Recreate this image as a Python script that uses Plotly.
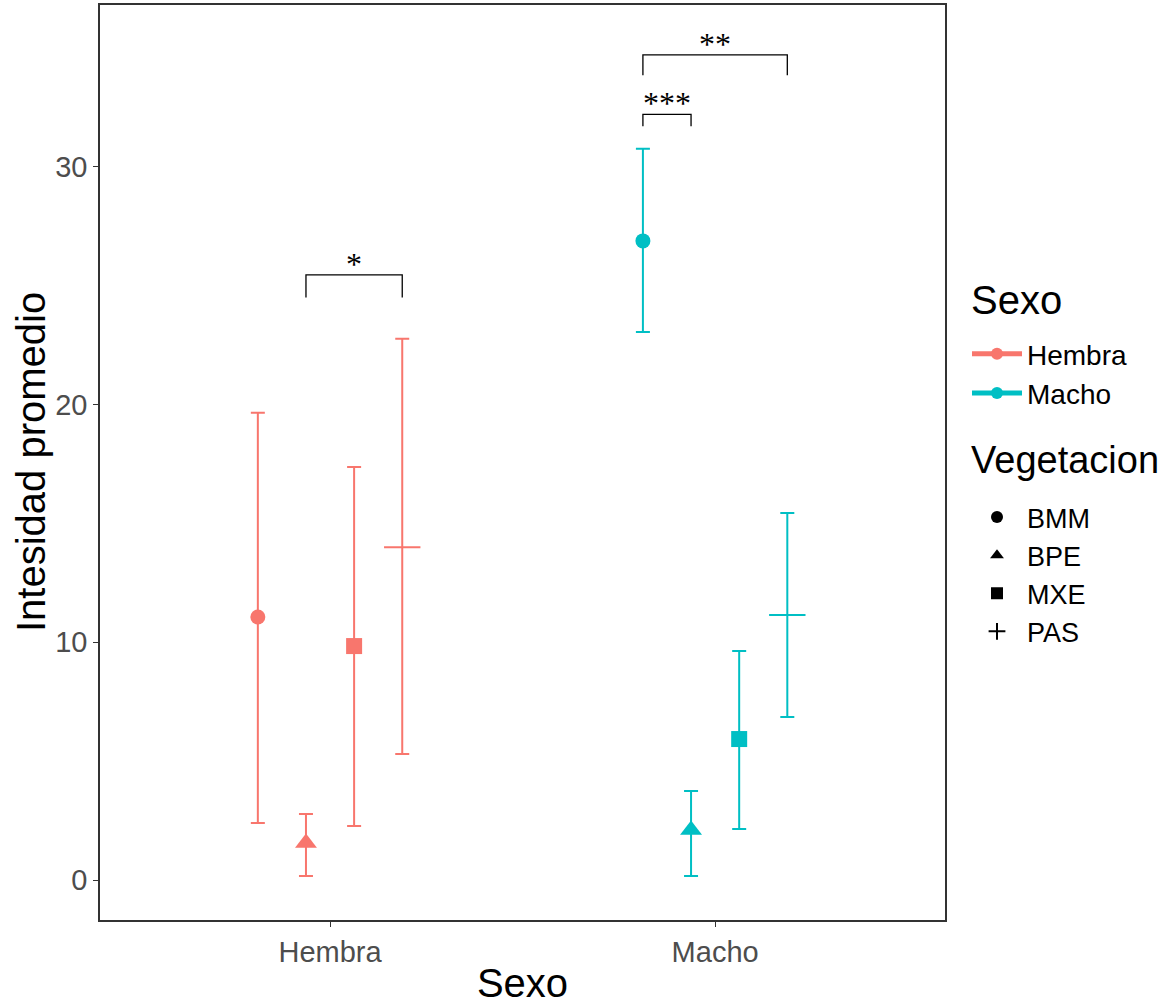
import plotly.graph_objects as go

# Mean intensity by sex and vegetation type, with error bar bounds
sexes = ["Hembra", "Macho"]
vegetation = ["BMM", "BPE", "MXE", "PAS"]
colors = {"Hembra": "#F8766D", "Macho": "#00BFC4"}
symbols = {"BMM": "circle", "BPE": "triangle-up", "MXE": "square", "PAS": "line-ew"}

mean_hembra = [11.06, 1.56, 9.84, 14.0]
low_hembra = [2.40, 0.17, 2.27, 5.30]
high_hembra = [19.65, 2.78, 17.37, 22.76]

mean_macho = [26.88, 2.10, 5.93, 11.15]
low_macho = [23.05, 0.17, 2.15, 6.86]
high_macho = [30.75, 3.74, 9.63, 15.44]

# Significance brackets: (sex, vegetation from, vegetation to, bracket top, tick bottom, label)
brackets = [
    ("Hembra", "BPE", "PAS", 25.45, 24.50, "*"),
    ("Macho", "BMM", "BPE", 32.20, 31.70, "***"),
    ("Macho", "BMM", "PAS", 34.70, 33.85, "**"),
]

stats = {
    "Hembra": (mean_hembra, low_hembra, high_hembra),
    "Macho": (mean_macho, low_macho, high_macho),
}

dodge_width = 0.5

# Page and panel geometry (pixels)
W, H = 1171, 1005
plot_left, plot_right, plot_top, plot_bottom = 100, 945, 5, 920


def px_x(px):
    return (px - plot_left) / (plot_right - plot_left)


def px_y(py):
    return (plot_bottom - py) / (plot_bottom - plot_top)


def xpos(sex, veg):
    base = sexes.index(sex) + 1
    n = len(vegetation)
    step = dodge_width / n
    return base - dodge_width / 2 + step / 2 + step * vegetation.index(veg)


fig = go.Figure()

marker_size = {"BMM": 15, "BPE": 19, "MXE": 16, "PAS": 26}

for sex in sexes:
    means, lows, highs = stats[sex]
    for i, veg in enumerate(vegetation):
        m = means[i]
        marker = dict(symbol=symbols[veg], size=marker_size[veg], color=colors[sex])
        if veg == "PAS":
            marker["line"] = dict(color=colors[sex], width=2)
        fig.add_trace(go.Scatter(
            x=[xpos(sex, veg)], y=[m], mode="markers",
            marker=marker,
            error_y=dict(type="data", symmetric=False,
                         array=[highs[i] - m], arrayminus=[m - lows[i]],
                         color=colors[sex], thickness=2, width=7),
            showlegend=False, hoverinfo="skip",
        ))

# Legend entries: sex (colour)
for sex in sexes:
    fig.add_trace(go.Scatter(
        x=[None], y=[None], mode="lines+markers", name=sex,
        line=dict(color=colors[sex], width=1.5),
        marker=dict(symbol="circle", size=13, color=colors[sex]),
        legend="legend",
    ))

# Legend entries: vegetation (shape)
legend_sizes = {"BMM": 13, "BPE": 18, "MXE": 14, "PAS": 22}
for veg in vegetation:
    sym = "cross-thin" if veg == "PAS" else symbols[veg]
    mk = dict(symbol=sym, size=legend_sizes[veg], color="black")
    if veg == "PAS":
        mk["line"] = dict(color="black", width=1.5)
    fig.add_trace(go.Scatter(
        x=[None], y=[None], mode="markers", name=veg,
        marker=mk, legend="legend2",
    ))

# Significance brackets
for sex, v1, v2, top, bottom, label in brackets:
    x1, x2 = xpos(sex, v1), xpos(sex, v2)
    fig.add_trace(go.Scatter(
        x=[x1, x1, x2, x2], y=[bottom, top, top, bottom], mode="lines",
        line=dict(color="black", width=1.3), showlegend=False, hoverinfo="skip",
    ))
    fig.add_annotation(
        x=(x1 + x2) / 2, y=top, text=label, showarrow=False,
        yanchor="bottom", yshift=-9,
        font=dict(family="Liberation Serif", size=32, color="black"),
    )

# Legend titles
for title, ycenter, size in [("Sexo", 300, 40), ("Vegetacion", 460, 38)]:
    fig.add_annotation(
        xref="paper", yref="paper", x=px_x(969), y=px_y(ycenter),
        xanchor="left", yanchor="middle", text=title, showarrow=False,
        font=dict(family="Liberation Sans", size=size, color="black"),
    )

# Y axis title
fig.add_annotation(
    xref="paper", yref="paper", x=px_x(31), y=px_y(462),
    xanchor="center", yanchor="middle", textangle=-90,
    text="Intesidad promedio", showarrow=False,
    font=dict(family="Liberation Sans", size=40, color="black"),
)

fig.update_layout(
    width=W, height=H,
    margin=dict(l=plot_left, r=W - plot_right, t=plot_top, b=H - plot_bottom, autoexpand=False),
    plot_bgcolor="white", paper_bgcolor="white",
    font=dict(family="Liberation Sans", color="black"),
    xaxis=dict(
        range=[0.4026, 2.597], tickvals=[1, 2], ticktext=sexes,
        showgrid=False, zeroline=False, showline=True, mirror=True,
        linecolor="#333333", linewidth=1.5,
        ticks="outside", ticklen=5, tickcolor="#333333",
        tickfont=dict(size=29, color="#4D4D4D"),
        title=dict(text="Sexo", font=dict(size=40, color="black"), standoff=4),
    ),
    yaxis=dict(
        range=[-1.68, 36.8], tickvals=[0, 10, 20, 30],
        showgrid=False, zeroline=False, showline=True, mirror=True,
        linecolor="#333333", linewidth=1.5,
        ticks="outside", ticklen=5, tickcolor="#333333",
        tickfont=dict(size=29, color="#4D4D4D"),
    ),
    legend=dict(
        font=dict(size=28), x=px_x(967), xanchor="left", y=px_y(329), yanchor="top",
        itemsizing="constant", itemwidth=50, tracegroupgap=0,
    ),
    legend2=dict(
        font=dict(size=27), x=px_x(967), xanchor="left", y=px_y(493), yanchor="top",
        itemsizing="constant", itemwidth=50, tracegroupgap=0,
    ),
)

fig.write_html("out.html")
